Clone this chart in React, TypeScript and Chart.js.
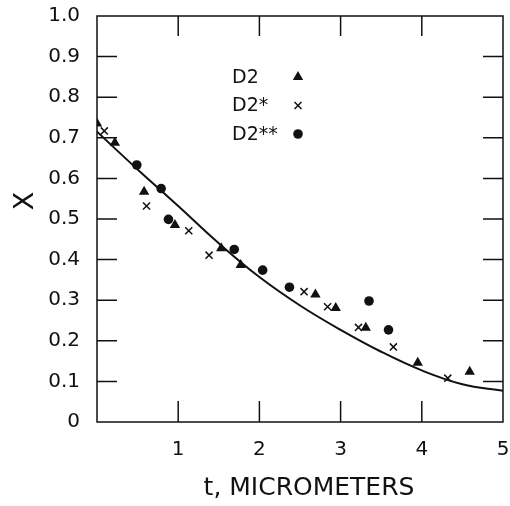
import React, { useEffect, useRef } from "react";
import { Chart, registerables } from "chart.js";
Chart.register(...registerables);

// D2 (triangles)
const d2T = [0, 0.22, 0.58, 0.96, 1.53, 1.77, 2.69, 2.94, 3.31, 3.95, 4.59];
const d2X = [0.735, 0.688, 0.567, 0.485, 0.428, 0.387, 0.314, 0.281, 0.232, 0.146, 0.124];
// D2* (x marks)
const d2sT = [0.09, 0.61, 1.13, 1.38, 2.55, 2.84, 3.22, 3.65, 4.32];
const d2sX = [0.717, 0.532, 0.471, 0.411, 0.321, 0.284, 0.233, 0.185, 0.108];
// D2** (circles)
const d2ssT = [0.49, 0.79, 0.88, 1.69, 2.04, 2.37, 3.35, 3.59];
const d2ssX = [0.633, 0.575, 0.499, 0.425, 0.374, 0.332, 0.298, 0.227];
// fitted curve
const curveT = [0, 0.5, 1, 1.5, 2, 2.5, 3, 3.5, 4, 4.5, 5];
const curveX = [0.715, 0.622, 0.532, 0.44, 0.357, 0.287, 0.227, 0.173, 0.127, 0.093, 0.077];

const xTickLabels = ["1", "2", "3", "4", "5"];
const yTickLabels = ["0", "0.1", "0.2", "0.3", "0.4", "0.5", "0.6", "0.7", "0.8", "0.9", "1.0"];
const innerXTicks = [1, 2, 3, 4];
const innerYTicks = [0.1, 0.2, 0.3, 0.4, 0.5, 0.6, 0.7, 0.8, 0.9];
const legendLabels = ["D2", "D2*", "D2**"];
const xTitle = "t, MICROMETERS";
const yTitle = "X";

const FONT = "'DejaVu Sans', sans-serif";
const INK = "#111";

function drawMarker(ctx: CanvasRenderingContext2D, kind: string, x: number, y: number) {
  ctx.save();
  ctx.fillStyle = INK;
  ctx.strokeStyle = INK;
  if (kind === "triangle") {
    const r = 6;
    ctx.beginPath();
    ctx.moveTo(x, y - r);
    ctx.lineTo(x + r * Math.sin(Math.PI / 3), y + r / 2);
    ctx.lineTo(x - r * Math.sin(Math.PI / 3), y + r / 2);
    ctx.closePath();
    ctx.fill();
  } else if (kind === "cross") {
    const o = 3.5;
    ctx.lineWidth = 1.5;
    ctx.beginPath();
    ctx.moveTo(x - o, y - o);
    ctx.lineTo(x + o, y + o);
    ctx.moveTo(x + o, y - o);
    ctx.lineTo(x - o, y + o);
    ctx.stroke();
  } else {
    ctx.beginPath();
    ctx.arc(x, y, 4.8, 0, Math.PI * 2);
    ctx.fill();
  }
  ctx.restore();
}

export default function App() {
  const ref = useRef<HTMLCanvasElement>(null);

  useEffect(() => {
    if (!ref.current) return;
    const pts = (t: number[], v: number[]) => t.map((x, i) => ({ x, y: v[i] }));

    const framePlugin = {
      id: "frame",
      afterDraw(chart: any) {
        const { ctx, chartArea: a, scales } = chart;
        const xs = scales.x;
        const ys = scales.y;
        ctx.save();
        ctx.strokeStyle = INK;
        ctx.lineWidth = 1.5;
        ctx.strokeRect(a.left, a.top, a.right - a.left, a.bottom - a.top);
        ctx.beginPath();
        innerXTicks.forEach((v) => {
          const px = xs.getPixelForValue(v);
          ctx.moveTo(px, a.bottom);
          ctx.lineTo(px, a.bottom - 21);
          ctx.moveTo(px, a.top);
          ctx.lineTo(px, a.top + 20);
        });
        innerYTicks.forEach((v) => {
          const py = ys.getPixelForValue(v);
          ctx.moveTo(a.left, py);
          ctx.lineTo(a.left + 20, py);
          ctx.moveTo(a.right, py);
          ctx.lineTo(a.right - 20, py);
        });
        ctx.stroke();

        // legend
        ctx.fillStyle = INK;
        ctx.font = `19px ${FONT}`;
        ctx.textBaseline = "middle";
        ctx.textAlign = "left";
        const kinds = ["triangle", "cross", "circle"];
        legendLabels.forEach((lab, i) => {
          const ty = a.top + 62 + i * 28.5;
          ctx.fillText(lab, a.left + 135, ty);
          drawMarker(ctx, kinds[i], a.left + 201, ty - 1);
        });

        // axis titles
        ctx.font = `25px ${FONT}`;
        ctx.textAlign = "center";
        ctx.textBaseline = "middle";
        ctx.fillText(xTitle, 309, 488);
        ctx.save();
        ctx.translate(26, 201);
        ctx.rotate(-Math.PI / 2);
        ctx.font = `27px ${FONT}`;
        ctx.fillText(yTitle, 0, 0);
        ctx.restore();
        ctx.restore();
      },
    };

    const chart = new Chart(ref.current, {
      type: "scatter",
      data: {
        datasets: [
          {
            label: "curve",
            data: pts(curveT, curveX),
            showLine: true,
            borderColor: INK,
            borderWidth: 2,
            pointRadius: 0,
            tension: 0.4,
          } as any,
          {
            label: legendLabels[0],
            data: pts(d2T, d2X),
            pointStyle: "triangle",
            pointRadius: 6,
            backgroundColor: INK,
            borderColor: INK,
            borderWidth: 0,
          },
          {
            label: legendLabels[1],
            data: pts(d2sT, d2sX),
            pointStyle: "crossRot",
            pointRadius: 5,
            borderColor: INK,
            borderWidth: 1.5,
          },
          {
            label: legendLabels[2],
            data: pts(d2ssT, d2ssX),
            pointStyle: "circle",
            pointRadius: 4.8,
            backgroundColor: INK,
            borderColor: INK,
            borderWidth: 0,
          },
        ],
      },
      options: {
        animation: false,
        responsive: false,
        maintainAspectRatio: false,
        layout: { padding: { top: 16, right: 7, left: 0, bottom: 0 } },
        plugins: { legend: { display: false }, tooltip: { enabled: false } },
        scales: {
          x: {
            type: "linear",
            min: 0,
            max: 5,
            grid: { display: false, drawTicks: false },
            border: { display: false },
            afterFit: (s: any) => {
              s.height = 84;
              s.paddingLeft = 0;
              s.paddingRight = 0;
            },
            afterBuildTicks: (s: any) => {
              s.ticks = xTickLabels.map((l) => ({ value: Number(l) }));
            },
            ticks: {
              padding: 16,
              color: INK,
              font: { family: FONT, size: 20 },
              maxRotation: 0,
              callback: (v: any) => String(v),
            },
          },
          y: {
            type: "linear",
            min: 0,
            max: 1,
            grid: { display: false, drawTicks: false },
            border: { display: false },
            afterFit: (s: any) => {
              s.width = 97;
              s.paddingTop = 0;
              s.paddingBottom = 0;
            },
            afterBuildTicks: (s: any) => {
              s.ticks = yTickLabels.map((l) => ({ value: Number(l) }));
            },
            ticks: {
              padding: 17,
              color: INK,
              font: { family: FONT, size: 20 },
              callback: (v: any) => yTickLabels.find((l) => Math.abs(Number(l) - v) < 1e-6) ?? "",
            },
          },
        },
      },
      plugins: [framePlugin],
    });
    return () => chart.destroy();
  }, []);

  return (
    <div style={{ position: "fixed", left: 0, top: 0, width: 510, height: 506, background: "#fff" }}>
      <canvas ref={ref} width={510} height={506} style={{ width: 510, height: 506, display: "block" }} />
    </div>
  );
}
